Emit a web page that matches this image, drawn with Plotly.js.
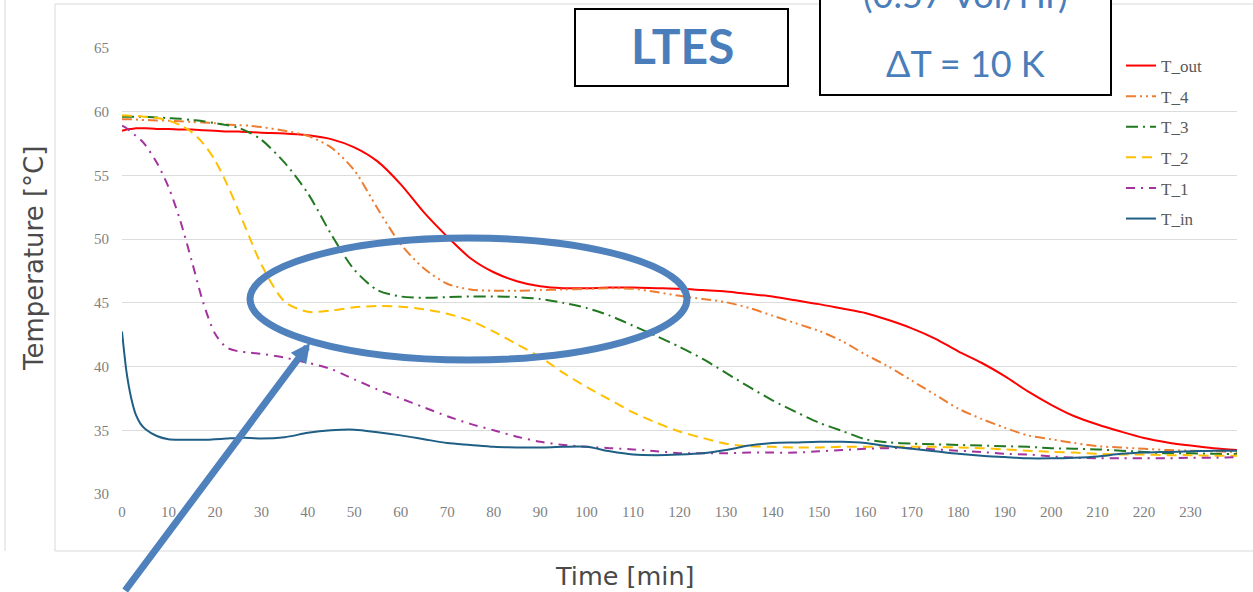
<!DOCTYPE html>
<html>
<head>
<meta charset="utf-8">
<script src="https://cdn.plot.ly/plotly-3.0.1.min.js"></script>
<style>
html,body{margin:0;padding:0;background:#fff;}
#chart{width:1253px;height:592px;}
</style>
</head>
<body>
<div id="chart"></div>
<script>
// ---- data (minutes, °C) ----
const minutes = [0,1,2,3,4,5,7.5,10,12.5,15,17.5,20,22.5,25,27.5,30,
  35,40,45,50,55,60,65,70,75,80,85,90,95,100,105,110,115,120,125,130,135,140,
  145,150,155,160,165,170,175,180,185,190,195,200,205,210,215,220,225,230,235,240];

const T_out = [58.5,58.6,58.65,58.7,58.7,58.7,58.65,58.65,58.6,58.6,58.55,58.5,58.45,58.45,58.4,58.35,
  58.3,58.15,57.85,57.2,56.1,54.3,52.1,50.2,48.5,47.4,46.7,46.3,46.15,46.15,46.2,46.2,46.15,46.1,46.0,45.9,45.7,45.5,
  45.2,44.9,44.55,44.2,43.65,43.0,42.2,41.2,40.3,39.25,38.05,37.0,36.1,35.45,34.9,34.4,34.05,33.8,33.6,33.45];

const T_4 = [59.4,59.4,59.4,59.38,59.36,59.35,59.32,59.3,59.25,59.2,59.15,59.1,59.0,58.95,58.9,58.8,
  58.5,58.1,57.2,55.4,52.4,49.6,47.7,46.5,46.05,45.95,45.95,46.0,46.05,46.1,46.15,46.1,45.85,45.55,45.3,45.05,44.6,44.0,
  43.4,42.8,42.0,40.95,40.0,38.9,37.8,36.7,35.9,35.2,34.6,34.3,34.0,33.75,33.65,33.55,33.45,33.4,33.35,33.3];

const T_3 = [59.6,59.6,59.6,59.6,59.6,59.6,59.55,59.5,59.45,59.35,59.25,59.1,58.95,58.75,58.35,57.8,
  56.0,53.6,50.4,47.6,46.0,45.5,45.4,45.45,45.5,45.5,45.45,45.3,45.0,44.6,44.0,43.2,42.4,41.55,40.6,39.5,38.4,37.35,
  36.45,35.6,34.95,34.3,34.05,33.95,33.9,33.85,33.8,33.75,33.7,33.6,33.55,33.5,33.4,33.3,33.2,33.2,33.15,33.15];

const T_2 = [59.7,59.7,59.68,59.66,59.64,59.6,59.5,59.3,58.95,58.4,57.5,56.2,54.4,52.3,50.1,48.0,
  45.1,44.3,44.4,44.65,44.75,44.7,44.5,44.15,43.6,42.75,41.75,40.75,39.5,38.4,37.4,36.4,35.6,34.9,34.4,33.95,33.75,33.7,
  33.65,33.65,33.7,33.7,33.7,33.7,33.7,33.65,33.6,33.5,33.4,33.3,33.25,33.15,33.1,33.1,33.05,33.05,33.0,33.0];

const T_1 = [58.9,58.7,58.4,58.1,57.8,57.4,56.0,54.1,51.5,48.3,45.0,42.6,41.5,41.2,41.1,41.0,
  40.7,40.3,39.8,39.0,38.2,37.5,36.8,36.1,35.5,35.0,34.5,34.1,33.85,33.7,33.6,33.5,33.35,33.2,33.2,33.2,33.25,33.25,
  33.25,33.35,33.45,33.55,33.6,33.6,33.5,33.4,33.3,33.15,33.1,32.95,32.85,32.8,32.8,32.8,32.8,32.85,32.85,32.9];

const T_in = [42.75,39.5,37.5,36.2,35.5,35.1,34.55,34.3,34.25,34.25,34.25,34.3,34.35,34.4,34.4,34.35,
  34.45,34.8,35.0,35.05,34.85,34.6,34.3,34.0,33.85,33.7,33.65,33.65,33.7,33.7,33.35,33.1,33.05,33.1,33.2,33.45,33.8,34.0,
  34.05,34.1,34.1,34.0,33.75,33.55,33.35,33.15,33.0,32.9,32.8,32.8,32.85,32.95,33.15,33.25,33.3,33.35,33.4,33.4];

const seriesNames = ["T_out","T_4","T_3","T_2","T_1","T_in"];
const xTickVals = [0,10,20,30,40,50,60,70,80,90,100,110,120,130,140,150,160,170,180,190,200,210,220,230];
const yTickVals = [30,35,40,45,50,55,60,65];

// ---- styling ----
const series = [T_out,T_4,T_3,T_2,T_1,T_in];
const colors = ["#FF0000","#ED7D31","#217821","#FFC000","#A3339F","#1F5F86"];
const dashes = ["solid","10px,4px,2px,4px,2px,4px","12px,5px,2px,5px","10px,6px","9px,6px,2px,6px","solid"];

const traces = series.map((vals,i)=>({
  type:"scatter", mode:"lines", name:seriesNames[i], x:minutes, y:vals,
  legendgroup:"g"+i,
  line:{color:colors[i], width:2, dash:dashes[i], shape:"spline", smoothing:0.8},
  hoverinfo:"skip"
}));

const W=1253, H=592, L=122, R=16, T=48, B=98;
const PW=W-L-R, PH=H-T-B;
const px=(p)=>(p-L)/PW;
const py=(p)=>(H-B-p)/PH;
const blue="#4F81BD";
const txt=(x,y,text,font,extra)=>Object.assign({xref:"paper", yref:"paper", x:px(x), y:py(y),
  xanchor:"center", yanchor:"middle", text:text, showarrow:false, font:font}, extra||{});

const layout = {
  width:W, height:H,
  margin:{l:L, r:R, t:T, b:B},
  paper_bgcolor:"#ffffff", plot_bgcolor:"#ffffff",
  showlegend:true,
  legend:{x:px(1121), y:py(48), xanchor:"left", yanchor:"top",
    font:{family:"Liberation Serif", size:17, color:"#595959"},
    tracegroupgap:5.5, bgcolor:"rgba(0,0,0,0)"},
  xaxis:{range:[0,240], tickvals:xTickVals, showgrid:false, zeroline:false, showline:false,
    ticks:"", ticklabelstandoff:7,
    tickfont:{family:"Liberation Serif", size:15, color:"#7F7F7F"}},
  yaxis:{range:[30,65], tickvals:yTickVals, showgrid:true, gridcolor:"#DCDCDC", gridwidth:1,
    zeroline:false, showline:false, ticks:"", ticklabelstandoff:12,
    tickfont:{family:"Liberation Serif", size:15, color:"#7F7F7F"}},
  shapes:[
    {type:"line", xref:"paper", yref:"paper", x0:px(5), x1:px(5), y0:py(0), y1:py(551),
      line:{color:"#D9D9D9", width:1}, layer:"below"},
    {type:"rect", xref:"paper", yref:"paper", x0:px(55), x1:px(1270), y0:py(4), y1:py(551),
      line:{color:"#D9D9D9", width:1}, layer:"below"},
    {type:"rect", xref:"paper", yref:"paper", x0:px(575), x1:px(788), y0:py(9), y1:py(86),
      line:{color:"#000000", width:2}, fillcolor:"#ffffff", layer:"above"},
    {type:"rect", xref:"paper", yref:"paper", x0:px(820), x1:px(1111), y0:py(-20), y1:py(95),
      line:{color:"#000000", width:2}, fillcolor:"#ffffff", layer:"above"},
    {type:"circle", xref:"paper", yref:"paper", x0:px(250), x1:px(687), y0:py(238), y1:py(360),
      line:{color:blue, width:7}, layer:"above"}
  ],
  annotations:[
    txt(682, 46, "<b>LTES</b>", {family:"Lato", size:48, color:"#4A7EBB"}),
    txt(965, -6, "(0.57 Vol/Hr)", {family:"Lato", size:36, color:"#4A7EBB"}),
    txt(965, 63, "ΔT = 10 K", {family:"Lato", size:36, color:"#4A7EBB"}),
    txt(34, 259, "Temperature [°C]", {family:"DejaVu Sans", size:26, color:"#4A4A4A"}, {textangle:-90}),
    txt(625, 576, "Time [min]", {family:"DejaVu Sans", size:25.5, color:"#4A4A4A"}),
    {xref:"paper", yref:"paper", x:px(310), y:py(343), text:"", showarrow:true,
      ax:-186, ay:252, arrowhead:2, arrowsize:0.55, arrowwidth:7, arrowcolor:blue, standoff:0}
  ]
};

Plotly.newPlot("chart", traces, layout, {staticPlot:true, displayModeBar:false});
</script>
</body>
</html>
